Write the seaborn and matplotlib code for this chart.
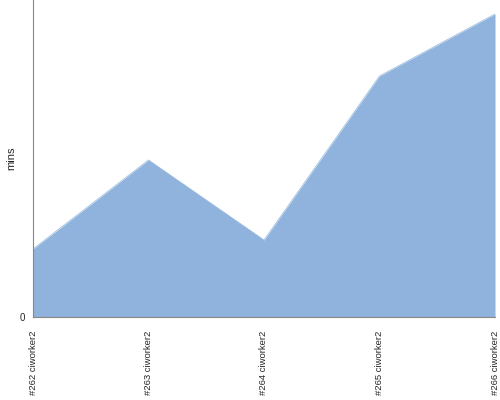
import matplotlib
matplotlib.use("Agg")
import matplotlib.pyplot as plt
import seaborn as sns
import pandas as pd

# build labels and minutes per build
builds = ["#262 ciworker2", "#263 ciworker2", "#264 ciworker2", "#265 ciworker2", "#266 ciworker2"]
mins = [6.8, 15.7, 7.7, 24.1, 30.3]

df = pd.DataFrame({"build": builds, "mins": mins})
df["pos"] = range(len(df))

sns.set_style("white")
plt.rcParams["font.family"] = ["Liberation Sans", "DejaVu Sans"]

fig = plt.figure(figsize=(5, 4), dpi=100)
ax = fig.add_axes([0.066, 0.2075, 0.924, 0.7925])

fill_col = "#8fb3dc"
sns.lineplot(data=df, x="pos", y="mins", color=fill_col, linewidth=0.5, ax=ax)
ax.fill_between(df["pos"], df["mins"], 0, color=fill_col, linewidth=0)

ax.set_xlim(0, len(df) - 1)
ax.set_ylim(0, 31.7)
ax.set_xticks(df["pos"])
ax.set_xticklabels(df["build"], rotation=90, fontsize=6.8)
ax.set_yticks([0])
ax.set_yticklabels(["0"], fontsize=7)
ax.tick_params(axis="y", length=4, width=0.8, color="#888888", pad=2)
ax.tick_params(axis="x", length=0, pad=10)
ax.set_xlabel("")
ax.set_ylabel("mins", fontsize=8)
ax.yaxis.set_label_coords(-0.037, 0.5)

for s in ["top", "right"]:
    ax.spines[s].set_visible(False)
for s in ["left", "bottom"]:
    ax.spines[s].set_color("#888888")
    ax.spines[s].set_linewidth(0.8)

fig.savefig("out.png", dpi=100)
